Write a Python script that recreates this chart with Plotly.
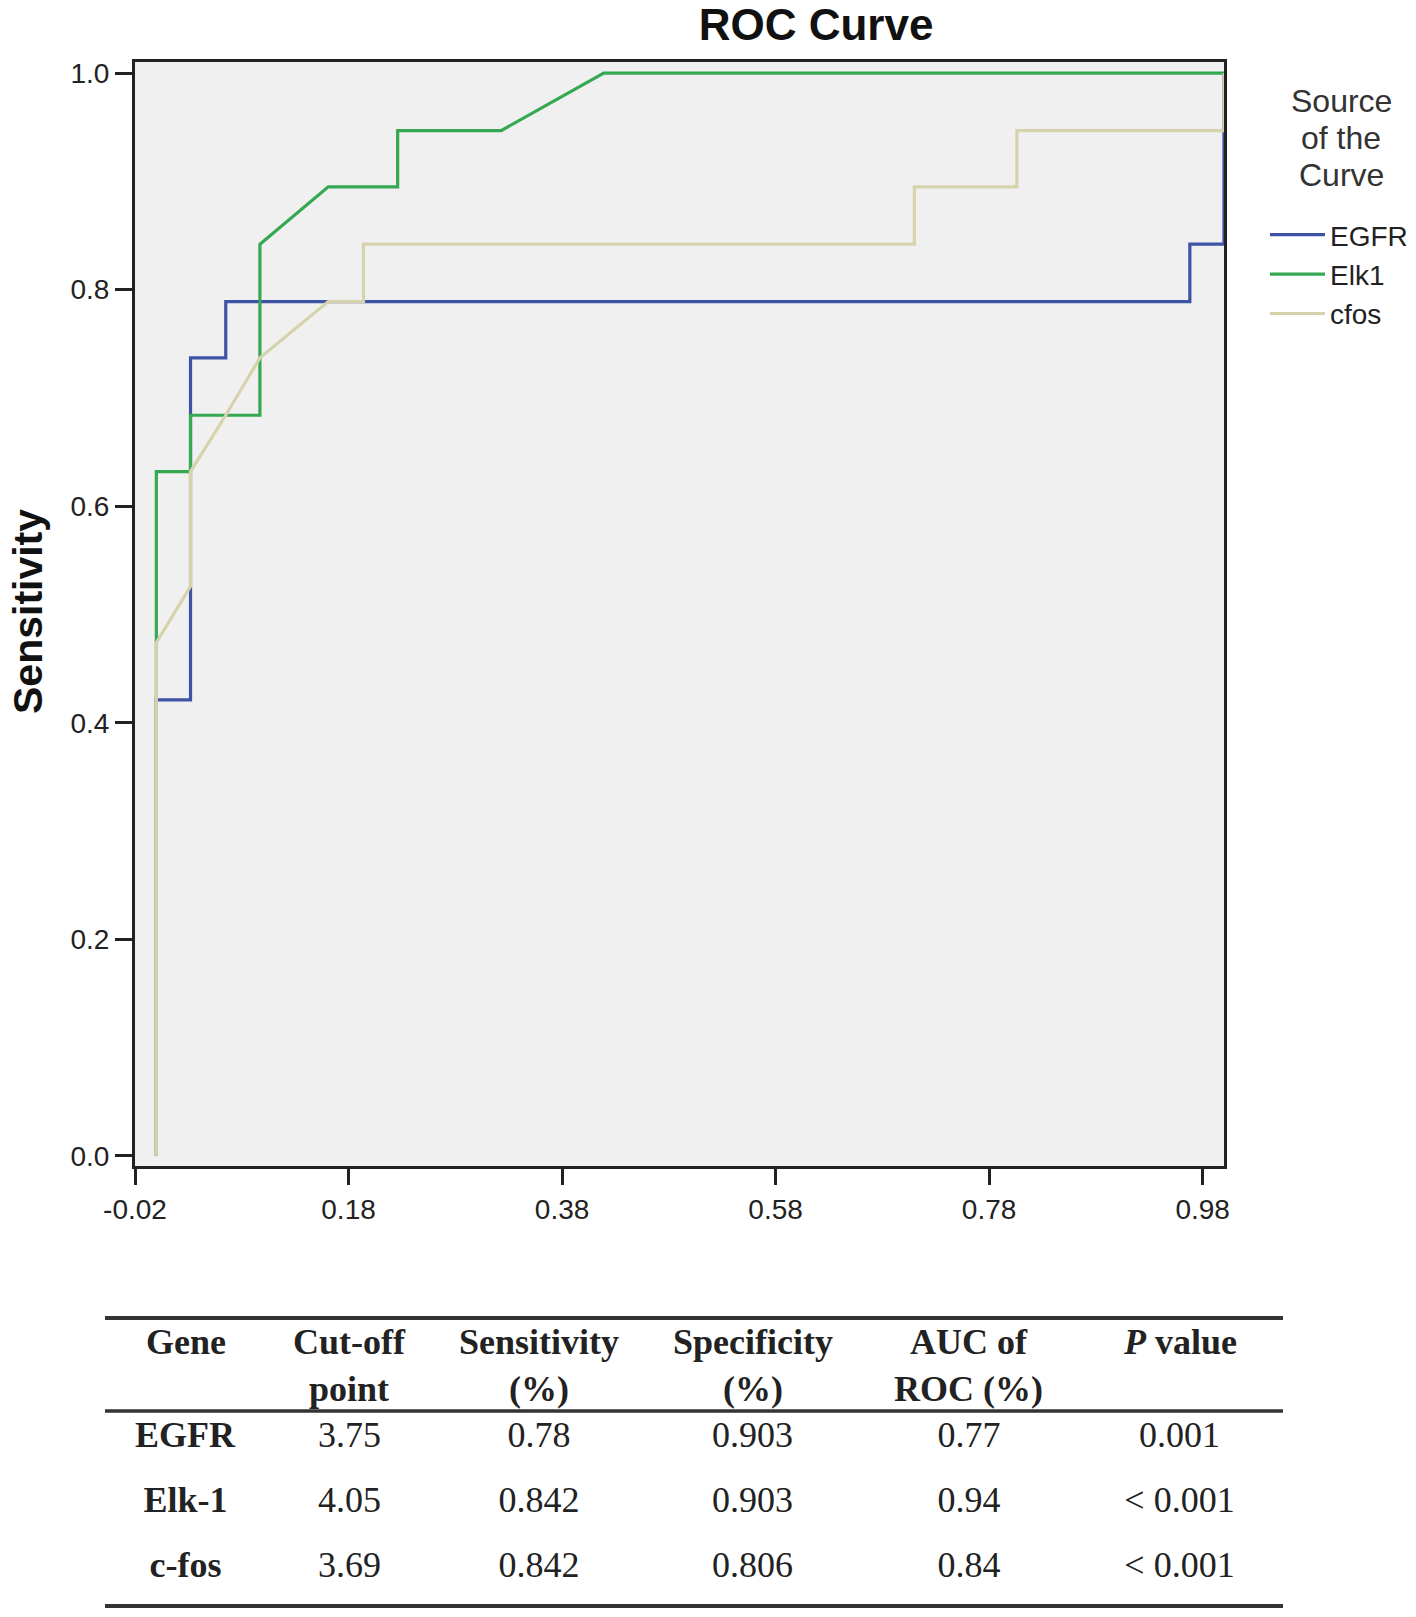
import plotly.graph_objects as go

# ---- ROC data (1 - specificity, sensitivity) ----
egfr_x = [0.0, 0.0, 0.032, 0.032, 0.065, 0.065, 0.968, 0.968, 1.0, 1.0]
egfr_y = [0.0, 0.421, 0.421, 0.737, 0.737, 0.789, 0.789, 0.842, 0.842, 1.0]

elk1_x = [0.0, 0.0, 0.032, 0.032, 0.097, 0.097, 0.161, 0.226, 0.226, 0.323, 0.419, 1.0]
elk1_y = [0.0, 0.632, 0.632, 0.684, 0.684, 0.842, 0.895, 0.895, 0.947, 0.947, 1.0, 1.0]

cfos_x = [0.0, 0.0, 0.032, 0.032, 0.065, 0.097, 0.161, 0.194, 0.194, 0.710, 0.710, 0.806, 0.806, 1.0, 1.0]
cfos_y = [0.0, 0.474, 0.526, 0.632, 0.684, 0.737, 0.789, 0.789, 0.842, 0.842, 0.895, 0.895, 0.947, 0.947, 1.0]

series_names = ["EGFR", "Elk1", "cfos"]
series_colors = ["#3e52a6", "#35a852", "#d6d3ac"]
legend_title_lines = ["Source", "of the", "Curve"]

x_ticks = [-0.02, 0.18, 0.38, 0.58, 0.78, 0.98]
x_tick_labels = ["-0.02", "0.18", "0.38", "0.58", "0.78", "0.98"]
y_ticks = [0.0, 0.2, 0.4, 0.6, 0.8, 1.0]
y_tick_labels = ["0.0", "0.2", "0.4", "0.6", "0.8", "1.0"]

# ---- Table data ----
tbl_header = ["Gene", "Cut-off<br>point", "Sensitivity<br>(%)", "Specificity<br>(%)",
              "AUC of<br>ROC (%)", "<i>P</i> value"]
tbl_gene = ["EGFR", "Elk-1", "c-fos"]
tbl_cutoff = ["3.75", "4.05", "3.69"]
tbl_sens = ["0.78", "0.842", "0.842"]
tbl_spec = ["0.903", "0.903", "0.806"]
tbl_auc = ["0.77", "0.94", "0.84"]
tbl_p = ["0.001", "&lt; 0.001", "&lt; 0.001"]

W, H = 1416, 1617
col_bounds = [106, 265, 434, 644, 861, 1077, 1282]  # table column edges (px)


def px_x(v):
    return v / W


def px_y(v):
    return 1 - v / H


fig = go.Figure()
for xs, ys, name, col in zip([egfr_x, elk1_x, cfos_x], [egfr_y, elk1_y, cfos_y],
                             series_names, series_colors):
    fig.add_trace(go.Scatter(x=xs, y=ys, mode="lines", name=name,
                             line=dict(color=col, width=3.2)))


def bold(s):
    return "<b>%s</b>" % s


def plain(s):
    return "<span>%s</span>" % s


col_widths = [b - a for a, b in zip(col_bounds[:-1], col_bounds[1:])]
fig.add_trace(go.Table(
    domain=dict(x=[px_x(col_bounds[0]), px_x(col_bounds[-1])], y=[px_y(1588), px_y(1391)]),
    columnwidth=col_widths,
    header=dict(values=[], height=1,
                fill=dict(color="rgba(0,0,0,0)"), line=dict(color="rgba(0,0,0,0)", width=0)),
    cells=dict(values=[[bold(g) for g in tbl_gene],
                       [plain(v) for v in tbl_cutoff],
                       [plain(v) for v in tbl_sens],
                       [plain(v) for v in tbl_spec],
                       [plain(v) for v in tbl_auc],
                       [plain(v) for v in tbl_p]],
               align="center", height=65,
               font=dict(family="Liberation Serif", size=36, color="#222"),
               fill=dict(color="rgba(0,0,0,0)"), line=dict(color="rgba(0,0,0,0)", width=0)),
))

# table header texts
for i, h in enumerate(tbl_header):
    cx = (col_bounds[i] + col_bounds[i + 1]) / 2
    fig.add_annotation(text=bold(h), xref="paper", yref="paper",
                       x=px_x(cx), y=px_y(1320), xanchor="center", yanchor="top",
                       align="center", showarrow=False,
                       font=dict(family="Liberation Serif", size=36, color="#222"))

# table rules
for yy, lw in [(1318, 4), (1411, 3.5), (1606, 4)]:
    fig.add_shape(type="line", xref="paper", yref="paper",
                  x0=px_x(105), x1=px_x(1283), y0=px_y(yy), y1=px_y(yy),
                  line=dict(color="#333", width=lw))

fig.add_annotation(text="<b>Sensitivity</b>", xref="paper", yref="paper",
                   x=px_x(28), y=px_y(612), textangle=-90, showarrow=False,
                   font=dict(family="Liberation Sans", size=41, color="#111"),
                   xanchor="center", yanchor="middle")

for line_text, yy in zip(legend_title_lines, [101, 138, 175]):
    fig.add_annotation(text=line_text, xref="paper", yref="paper",
                       x=px_x(1341), y=px_y(yy), showarrow=False,
                       font=dict(family="Liberation Sans", size=32, color="#333"),
                       xanchor="center", yanchor="middle")

fig.update_layout(
    width=W, height=H,
    margin=dict(l=0, r=0, t=0, b=0),
    paper_bgcolor="white",
    plot_bgcolor="#f0f0f0",
    title=dict(text="<b>ROC Curve</b>", x=px_x(816), xanchor="center",
               y=px_y(25), yanchor="middle",
               font=dict(family="Liberation Sans", size=44, color="#111")),
    xaxis=dict(domain=[px_x(135), px_x(1224)], range=[-0.02, 1.0],
               tickvals=x_ticks, ticktext=x_tick_labels, ticks="outside", ticklen=16,
               tickwidth=3, tickcolor="#222", showgrid=False, zeroline=False,
               showline=True, linecolor="#222", linewidth=3, mirror=True,
               tickfont=dict(family="Liberation Sans", size=28, color="#222"),
               automargin=False),
    yaxis=dict(domain=[px_y(1166), px_y(62)], range=[-0.0095, 1.0103],
               tickvals=y_ticks, ticktext=y_tick_labels, ticks="outside", ticklen=17,
               tickwidth=3, tickcolor="#222", showgrid=False, zeroline=False,
               showline=True, linecolor="#222", linewidth=3, mirror=True,
               tickfont=dict(family="Liberation Sans", size=28, color="#222"),
               automargin=False),
    legend=dict(x=px_x(1265), xanchor="left", y=px_y(210), yanchor="top",
                bgcolor="rgba(0,0,0,0)", itemwidth=55,
                font=dict(family="Liberation Sans", size=28, color="#222"),
                tracegroupgap=0),
    showlegend=True,
)

fig.write_html("out.html", config={"displayModeBar": False},
               post_script="document.body.style.margin='0px';")
